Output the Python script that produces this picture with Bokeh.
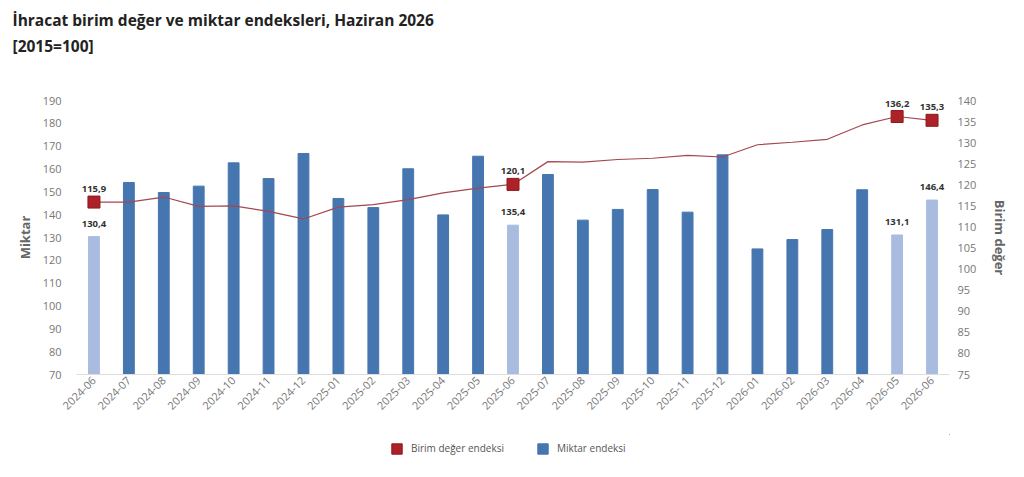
from bokeh.plotting import figure
from bokeh.layouts import column
from bokeh.models import (ColumnDataSource, FactorRange, Range1d, LinearAxis, FixedTicker,
                          Legend, LegendItem, Title, LabelSet)
from bokeh.core.properties import value
from bokeh.embed import file_html
from bokeh.resources import INLINE

months = ["2024-06", "2024-07", "2024-08", "2024-09", "2024-10", "2024-11", "2024-12",
          "2025-01", "2025-02", "2025-03", "2025-04", "2025-05", "2025-06", "2025-07",
          "2025-08", "2025-09", "2025-10", "2025-11", "2025-12", "2026-01", "2026-02",
          "2026-03", "2026-04", "2026-05", "2026-06"]
miktar = [130.4, 154.1, 149.7, 152.5, 162.7, 155.8, 166.8, 147.1, 143.1, 160.1, 139.9,
          165.6, 135.4, 157.6, 137.6, 142.3, 151.0, 141.1, 166.2, 125.0, 129.1, 133.5,
          150.9, 131.1, 146.4]
birim = [115.9, 115.9, 117.1, 114.9, 115.0, 113.7, 111.9, 114.7, 115.3, 116.5, 118.1,
         119.2, 120.1, 125.5, 125.4, 126.0, 126.3, 127.0, 126.6, 129.5, 130.1, 130.8,
         134.2, 136.2, 135.3]
highlight = ["2024-06", "2025-06", "2026-05", "2026-06"]
left_ticks = [70, 80, 90, 100, 110, 120, 130, 140, 150, 160, 170, 180, 190]
right_ticks = [75, 80, 85, 90, 95, 100, 105, 110, 115, 120, 125, 130, 135, 140]
legend_labels = ["Birim değer endeksi", "Miktar endeksi"]

DARK = "#4676b0"
LIGHT = "#a9bce0"
RED = "#ac2228"
RED_EDGE = "#8c1a1f"
FONT = "Open Sans"

bar_colors = [LIGHT if m in highlight else DARK for m in months]
bars = ColumnDataSource(dict(x=months, top=miktar, color=bar_colors))
line_src = ColumnDataSource(dict(x=months, y=birim))

hi_idx = [months.index(m) for m in highlight]
bar_lbl = ColumnDataSource(dict(x=[months[i] for i in hi_idx], y=[miktar[i] for i in hi_idx],
                                t=[f"{miktar[i]:.1f}".replace(".", ",") for i in hi_idx]))
pt_lbl = ColumnDataSource(dict(x=[months[i] for i in hi_idx], y=[birim[i] for i in hi_idx],
                               t=[f"{birim[i]:.1f}".replace(".", ",") for i in hi_idx]))

p = figure(x_range=FactorRange(*months, range_padding=0), y_range=Range1d(70, 190),
           width=1012, height=434, output_backend="svg", toolbar_location=None,
           min_border_left=76, min_border_right=58, min_border_top=100, min_border_bottom=60)
p.extra_y_ranges = {"bd": Range1d(75, 140)}
p.outline_line_color = None
p.xgrid.grid_line_color = None
p.ygrid.grid_line_color = None

p.vbar(x="x", top="top", bottom=70, width=0.31, color="color", source=bars)
p.line(x="x", y="y", source=line_src, y_range_name="bd", line_color="#a4474f", line_width=1.2)
p.scatter(x="x", y="y", source=ColumnDataSource(dict(x=[months[i] for i in hi_idx],
                                                     y=[birim[i] for i in hi_idx])),
          y_range_name="bd", marker="square", size=12, fill_color=RED, line_color=RED_EDGE)

p.add_layout(LabelSet(x="x", y="y", text="t", source=bar_lbl, y_offset=10, text_align="center",
                      text_baseline="bottom", text_font_size="9.5px", text_font_style="bold",
                      text_color="#333333", text_font=value(FONT)))
p.add_layout(LabelSet(x="x", y="y", text="t", source=pt_lbl, y_range_name="bd", y_offset=10,
                      text_align="center", text_baseline="bottom", text_font_size="9.5px",
                      text_font_style="bold", text_color="#333333", text_font=value(FONT)))

# axes
xa = p.xaxis[0]
xa.major_label_orientation = 0.785
xa.major_tick_line_color = None
xa.major_tick_out = 0
xa.major_tick_in = 0
xa.axis_line_color = "#dddddd"
xa.major_label_text_font_size = "11px"
xa.major_label_text_color = "#777777"
xa.major_label_text_font = FONT
xa.major_label_standoff = 4

ya = p.yaxis[0]
ya.ticker = FixedTicker(ticks=left_ticks)
ya.axis_label = "Miktar"
ya.axis_line_color = None
ya.major_tick_line_color = None
ya.minor_tick_line_color = None
ya.major_tick_out = 0
ya.major_tick_in = 0
ya.major_label_standoff = 15
ya.axis_label_standoff = 6
ya.major_label_text_font_size = "11px"
ya.major_label_text_color = "#777777"
ya.major_label_text_font = FONT
ya.axis_label_text_font = FONT
ya.axis_label_text_font_size = "13px"
ya.axis_label_text_font_style = "bold"
ya.axis_label_text_color = "#666666"

ra = LinearAxis(y_range_name="bd", ticker=FixedTicker(ticks=right_ticks), axis_label="Birim değer")
ra.axis_line_color = None
ra.major_tick_line_color = None
ra.minor_tick_line_color = None
ra.major_tick_out = 0
ra.major_tick_in = 0
ra.major_label_standoff = 8
ra.axis_label_standoff = 12
ra.major_label_text_font_size = "11px"
ra.major_label_text_color = "#777777"
ra.major_label_text_font = FONT
ra.axis_label_text_font = FONT
ra.axis_label_text_font_size = "13px"
ra.axis_label_text_font_style = "bold"
ra.axis_label_text_color = "#666666"
p.add_layout(ra, "right")

# titles: spacer (closest to frame), subtitle, main title
p.add_layout(Title(text=" ", standoff=20, text_font=FONT, text_font_size="15px"), "above")
p.add_layout(Title(text="[2015=100]", align="left", offset=-64, standoff=4,
                   text_font=FONT, text_font_size="15.5px", text_font_style="bold",
                   text_color="#222222"), "above")
p.add_layout(Title(text="İhracat birim değer ve miktar endeksleri, Haziran 2026", align="left",
                   offset=-64, standoff=0, text_font=FONT, text_font_size="15.5px",
                   text_font_style="bold", text_color="#222222"), "above")

# legend strip below the chart (its renderers fall outside the strip's ranges and stay hidden)
lg = figure(width=1012, height=40, output_backend="svg", toolbar_location=None,
            x_axis_type=None, y_axis_type=None, x_range=Range1d(0, 1), y_range=Range1d(0, 1),
            min_border_left=0, min_border_right=0, min_border_top=0, min_border_bottom=0)
lg.outline_line_color = None
lg.xgrid.grid_line_color = None
lg.ygrid.grid_line_color = None
r_red = lg.vbar(x=[birim[0]], top=[birim[0]], bottom=[birim[0] - 1], width=1,
                fill_color=RED, line_color=RED_EDGE)
r_blue = lg.vbar(x=[miktar[0]], top=[miktar[0]], bottom=[miktar[0] - 1], width=1,
                 fill_color=DARK, line_color=DARK)
legend = Legend(items=[LegendItem(label=legend_labels[0], renderers=[r_red]),
                       LegendItem(label=legend_labels[1], renderers=[r_blue])],
                location=(314, 19), orientation="horizontal", padding=0, margin=0,
                spacing=32, label_standoff=8, glyph_width=13, glyph_height=13,
                border_line_alpha=0, background_fill_alpha=0,
                label_text_font=FONT, label_text_font_size="10px", label_text_color="#555555")
lg.add_layout(legend, "center")

open("out.html", "w").write(file_html(column(p, lg, spacing=0), INLINE))
